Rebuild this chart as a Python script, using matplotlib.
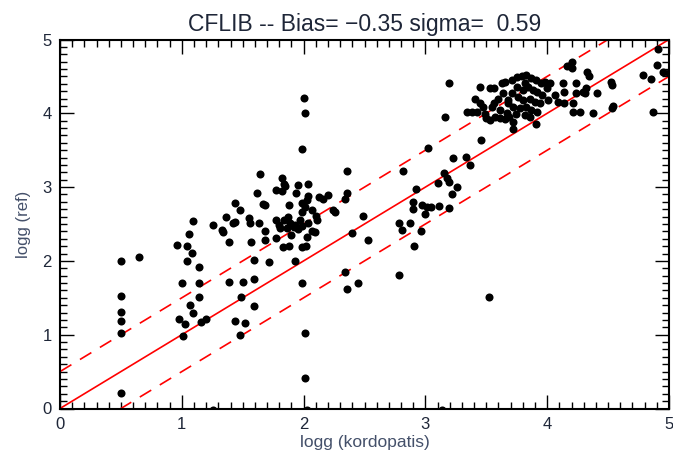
import numpy as np
import matplotlib
matplotlib.use("Agg")
import matplotlib.pyplot as plt
from matplotlib.ticker import MultipleLocator

plt.rcParams["font.family"] = ["Liberation Sans", "DejaVu Sans"]

# logg (kordopatis) vs logg (ref)
logg_kord = [
    # x ~ 0.5
    0.50, 0.65, 0.50, 0.50, 0.50, 0.50, 0.50,
    # x ~ 1.0 - 1.3
    0.96, 1.04, 1.06, 1.08, 1.04, 1.14, 1.00, 1.14, 1.14, 1.07, 1.09, 0.98,
    1.03, 1.01, 1.16, 1.20, 1.09, 1.26, 1.33, 1.34, 1.26,
    # x ~ 1.3 - 1.65
    1.36, 1.42, 1.44, 1.44, 1.48, 1.39, 1.55, 1.56, 1.63, 1.57, 1.59, 1.39,
    1.50, 1.59, 1.49, 1.59, 1.44, 1.52, 1.48, 1.62, 1.64,
    # x ~ 1.65 - 2.1
    1.68, 1.68, 1.67, 1.68, 1.72, 1.77, 1.77, 1.80, 1.77, 1.82, 1.82, 1.84,
    1.85, 1.95, 2.04, 1.94, 2.04, 2.03, 1.88, 1.99, 2.01, 1.99, 2.07, 2.10,
    2.11, 1.84, 1.87, 1.89, 1.93, 1.97, 1.99, 2.04, 1.81, 1.86, 1.92, 1.95,
    1.90, 2.07, 2.09, 1.83, 1.88, 2.03, 2.02, 1.99, 1.93, 1.99, 2.01, 2.01,
    2.03, 1.99, 2.00, 2.01,
    # x ~ 2.1 - 2.6
    2.13, 2.20, 2.16, 2.24, 2.26, 2.36, 2.36, 2.34, 2.40, 2.49, 2.53, 2.34,
    2.36, 2.45,
    # x ~ 2.7 - 3.5
    2.78, 2.87, 2.81, 2.96, 2.91, 2.78, 2.90, 2.97, 3.01, 3.05, 3.11, 2.90,
    3.00, 3.19, 2.92, 3.10, 3.15, 3.18, 3.19, 3.26, 3.22, 2.82, 3.02, 3.23,
    3.33, 3.37, 3.14, 3.52, 3.46, 3.72, 3.91, 3.19, 3.16,
    # dwarf clump x ~ 3.3 - 4.1
    3.45, 3.53, 3.56, 3.41, 3.45, 3.34, 3.38, 3.42, 3.49, 3.50, 3.53, 3.57,
    3.61, 3.65, 3.69, 3.74, 3.56, 3.60, 3.64, 3.63, 3.65, 3.71, 3.75, 3.79,
    3.83, 3.87, 3.91, 3.95, 3.98, 3.75, 3.80, 3.84, 3.88, 3.92, 3.96, 3.71,
    3.76, 3.80, 3.86, 3.90, 3.94, 3.68, 3.72, 3.78, 3.83, 3.87, 3.92, 3.61,
    3.67, 3.82, 3.86, 3.68, 3.82, 3.55, 3.47, 3.72,
    # x ~ 4.0 - 5.0
    4.02, 4.00, 4.01, 4.06, 4.09, 4.13, 4.14, 4.14, 4.24, 4.24, 4.27, 4.21,
    4.21, 4.29, 4.32, 4.31, 4.33, 4.34, 4.38, 4.41, 4.16, 4.20, 4.20, 4.52,
    4.53, 4.53, 4.54, 4.79, 4.85, 4.87, 4.90, 4.91, 4.95, 5.00,
]
logg_ref = [
    2.00, 2.05, 1.52, 1.31, 1.19, 1.02, 0.21,
    2.21, 2.20, 2.36, 2.11, 2.00, 1.92, 1.70, 1.70, 1.51, 1.40, 1.30, 1.21,
    1.15, 0.98, 1.17, 1.21, 2.54, 2.48, 2.42, 2.39, -0.02,
    2.60, 2.51, 2.53, 2.78, 2.69, 2.25, 2.58, 2.51, 2.51, 2.26, 2.01, 1.71,
    1.72, 1.76, 1.51, 1.39, 1.19, 1.16, 1.00, 2.92, 3.18,
    2.41, 2.28, 2.77, 2.76, 1.99, 2.31, 2.55, 2.49, 2.96, 2.95, 3.12, 3.04,
    3.01, 3.03, 3.04, 2.92, 2.88, 2.83, 2.76, 2.78, 2.73, 2.66, 2.69, 2.61,
    2.55, 2.56, 2.60, 2.52, 2.49, 2.55, 2.47, 2.51, 2.44, 2.44, 2.46, 2.43,
    2.35, 2.41, 2.39, 2.19, 2.20, 2.33, 2.20, 2.19, 2.00, 1.70, 1.02, 0.41,
    -0.02, 3.52, 4.21, 4.01,
    2.87, 2.89, 2.84, 2.69, 2.66, 3.22, 2.92, 2.84, 2.38, 2.61, 2.28, 1.85,
    1.62, 1.70,
    2.51, 2.51, 2.42, 2.41, 2.20, 1.81, 2.80, 2.76, 2.73, 2.73, 2.74, 2.70,
    2.64, 2.72, 2.97, 3.05, 3.19, 3.12, 3.07, 3.00, 2.91, 3.22, 3.53, 3.39,
    3.41, 3.30, -0.02, 1.51, 3.64, 3.79, 3.85, 4.41, 3.95,
    4.36, 4.34, 4.34, 4.20, 4.14, 4.02, 4.02, 4.02, 3.99, 3.94, 3.91, 3.95,
    3.94, 3.92, 3.95, 3.99, 4.14, 4.20, 4.27, 4.41, 4.42, 4.45, 4.49, 4.50,
    4.52, 4.48, 4.45, 4.41, 4.42, 4.36, 4.32, 4.36, 4.32, 4.29, 4.25, 4.27,
    4.22, 4.18, 4.20, 4.15, 4.14, 4.14, 4.09, 4.07, 4.09, 4.04, 4.02, 4.04,
    4.00, 3.98, 3.95, 4.18, 4.41, 4.09, 4.09, 3.88,
    4.41, 4.34, 4.18, 4.25, 4.15, 4.41, 4.29, 4.14, 4.41, 4.27, 4.02, 4.02,
    4.14, 4.29, 4.34, 4.27, 4.56, 4.50, 4.00, 4.27, 4.64, 4.69, 4.61, 4.42,
    4.38, 4.07, 4.10, 4.52, 4.46, 4.02, 4.65, 4.87, 4.56, 4.54,
]
offset = 0.5          # dashed envelope around the 1:1 line
title_text = "CFLIB -- Bias= \u22120.35 sigma=  0.59"

text_col = "#1e2638"
label_col = "#44506a"

fig = plt.figure(figsize=(6.73, 4.57), dpi=100, facecolor="white")
ax = fig.add_axes([60 / 673, 1 - 408.5 / 457, 609 / 673, 369 / 457])

ax.plot(logg_kord, logg_ref, "o", color="black", ms=5.8, mew=0, zorder=3)

xx = np.array([0.0, 5.0])
ax.plot(xx, xx, color="#ff0000", lw=1.2, zorder=2)
ax.plot(xx, xx + offset, color="#ff0000", lw=1.2, ls=(0, (8, 6)), zorder=2)
ax.plot(xx, xx - offset, color="#ff0000", lw=1.2, ls=(0, (8, 6)), zorder=2)

ax.set_xlim(0, 5)
ax.set_ylim(0, 5)
ax.xaxis.set_major_locator(MultipleLocator(1))
ax.yaxis.set_major_locator(MultipleLocator(1))
ax.xaxis.set_minor_locator(MultipleLocator(0.1))
ax.yaxis.set_minor_locator(MultipleLocator(0.1))
ax.tick_params(which="both", direction="in", top=True, right=True,
               color="black", width=1.0)
ax.tick_params(which="major", length=10, labelsize=12, labelcolor=text_col,
               pad=6)
ax.tick_params(which="minor", length=5)
for spine in ax.spines.values():
    spine.set_linewidth(1.5)
    spine.set_edgecolor("black")

ax.set_xlabel("logg (kordopatis)", fontsize=12.5, color=label_col, labelpad=2)
ax.set_ylabel("logg (ref)", fontsize=12, color=label_col, labelpad=8)
ax.set_title(title_text, fontsize=16.5, color=text_col, pad=6)

fig.savefig("out.png", dpi=100, facecolor="white")
